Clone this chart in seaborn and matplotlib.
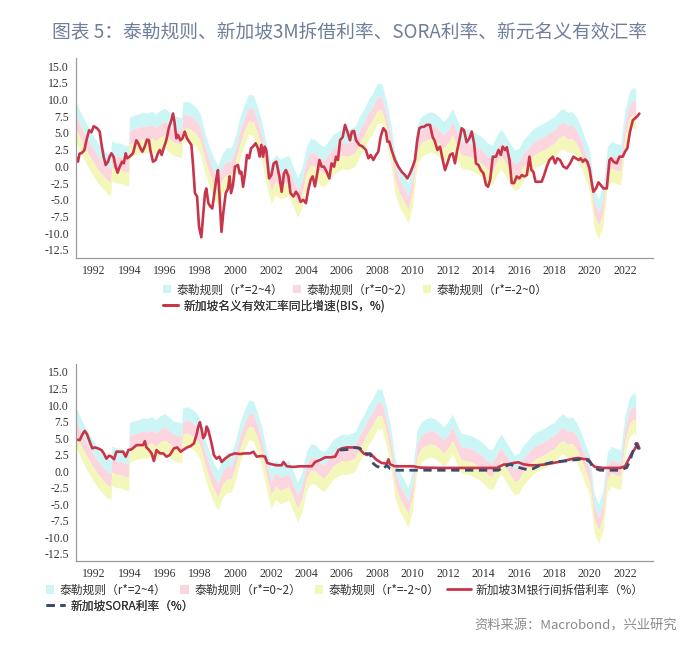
import matplotlib
matplotlib.use("Agg")
import matplotlib.pyplot as plt
import seaborn as sns
import numpy as np
from matplotlib.patches import Patch
from matplotlib.lines import Line2D

# Taylor rule rate with r*=0 (quarterly), bands shifted by r*
taylor_t = [1991.00, 1991.25, 1991.50, 1991.75, 1992.00, 1992.25, 1992.50, 1992.75, 1992.95,
            1993.00, 1993.25, 1993.50, 1993.75, 1993.95, 1994.00, 1994.25, 1994.50, 1994.75,
            1995.00, 1995.25, 1995.50, 1995.75, 1996.00, 1996.25, 1996.50, 1996.75, 1996.95,
            1997.00, 1997.25, 1997.50, 1997.75, 1998.00, 1998.25, 1998.50, 1998.75, 1999.00,
            1999.25, 1999.50, 1999.75, 2000.00, 2000.25, 2000.50, 2000.75, 2001.00, 2001.25,
            2001.50, 2001.75, 2002.00, 2002.25, 2002.50, 2002.75, 2003.00, 2003.25, 2003.50,
            2003.75, 2004.00, 2004.25, 2004.50, 2004.75, 2005.00, 2005.25, 2005.50, 2005.75,
            2006.00, 2006.25, 2006.50, 2006.75, 2007.00, 2007.25, 2007.50, 2007.75, 2008.00,
            2008.25, 2008.50, 2008.75, 2009.00, 2009.25, 2009.50, 2009.75, 2010.00, 2010.25,
            2010.50, 2010.75, 2011.00, 2011.25, 2011.50, 2011.75, 2012.00, 2012.25, 2012.50,
            2012.75, 2013.00, 2013.25, 2013.50, 2013.75, 2014.00, 2014.25, 2014.50, 2014.75,
            2015.00, 2015.25, 2015.50, 2015.75, 2016.00, 2016.25, 2016.50, 2016.75, 2017.00,
            2017.25, 2017.50, 2017.75, 2018.00, 2018.25, 2018.50, 2018.75, 2019.00, 2019.25,
            2019.50, 2019.75, 2020.00, 2020.25, 2020.50, 2020.75, 2021.00, 2021.25, 2021.50,
            2021.75, 2022.00, 2022.25, 2022.50, 2022.60]
taylor_r0 = [5.5, 4.0, 2.7, 1.5, 0.4, -0.6, -1.35, -2.1, -2.3,
             -0.15, -0.5, -0.5, -0.85, -0.9, 3.35, 3.65, 3.8, 4.05,
             3.95, 4.25, 3.8, 4.4, 4.7, 4.15, 3.6, 3.4, 3.3,
             5.55, 5.75, 5.45, 4.9, 3.85, 1.1, -0.95, -2.7, -3.9,
             -2.0, -1.2, -1.2, 0.75, 3.4, 5.35, 6.8, 6.6, 4.8,
             2.4, -0.8, -3.65, -2.25, -2.9, -2.65, -2.35, -4.0, -5.65,
             -4.15, -1.0, 0.2, 0.0, -0.7, -1.05, -0.2, 0.75, 1.2,
             1.6, 1.5, 1.7, 2.0, 3.5, 4.55, 6.0, 7.0, 8.4,
             8.4, 6.0, 2.75, -2.0, -4.0, -5.25, -6.5, -3.75, 2.2,
             3.5, 3.9, 4.15, 3.95, 3.4, 2.7, 3.5, 4.65, 3.1,
             1.7, 1.6, 1.45, 1.1, 0.7, 0.2, -0.55, -0.8, 0.6,
             1.6, 0.55, -0.55, -1.6, -1.3, -0.05, 0.65, 1.45, 1.95,
             2.25, 2.6, 3.05, 3.4, 4.2, 4.65, 4.05, 4.2, 3.4,
             1.95, 0.1, -1.65, -7.25, -8.9, -7.0, -1.05, -0.25, -0.6,
             -0.75, 4.5, 7.2, 7.9, 7.4]
band_rstar = [(2, 4), (0, 2), (-2, 0)]
band_labels = ["泰勒规则（r*=2~4）", "泰勒规则（r*=0~2）", "泰勒规则（r*=-2~0）"]
band_colors = ["#ccf6f6", "#fcd6de", "#f4f7ba"]

# Singapore NEER yoy (BIS, %)
neer_t = [1991.00, 1991.09, 1991.18, 1991.30, 1991.45, 1991.57, 1991.72, 1991.85, 1991.98, 1992.17,
          1992.32, 1992.41, 1992.54, 1992.66, 1992.79, 1992.88, 1992.98, 1993.10, 1993.22, 1993.33,
          1993.45, 1993.58, 1993.68, 1993.79, 1993.87, 1994.01, 1994.20, 1994.39, 1994.50, 1994.62,
          1994.73, 1994.86, 1994.99, 1995.10, 1995.18, 1995.33, 1995.48, 1995.61, 1995.71, 1995.82,
          1995.93, 1996.08, 1996.24, 1996.37, 1996.46, 1996.54, 1996.65, 1996.74, 1996.88, 1997.00,
          1997.12, 1997.25, 1997.37, 1997.50, 1997.60, 1997.70, 1997.82, 1997.93, 1998.06, 1998.16,
          1998.27, 1998.34, 1998.46, 1998.57, 1998.68, 1998.80, 1998.90, 1999.00, 1999.10, 1999.20,
          1999.30, 1999.44, 1999.57, 1999.66, 1999.74, 1999.85, 1999.96, 2000.13, 2000.23, 2000.32,
          2000.42, 2000.53, 2000.64, 2000.76, 2000.87, 2000.98, 2001.13, 2001.26, 2001.36, 2001.45,
          2001.55, 2001.64, 2001.73, 2001.89, 2002.02, 2002.15, 2002.30, 2002.47, 2002.60, 2002.73,
          2002.84, 2002.98, 2003.10, 2003.26, 2003.41, 2003.54, 2003.67, 2003.82, 2003.97, 2004.10,
          2004.24, 2004.35, 2004.48, 2004.61, 2004.73, 2004.86, 2004.99, 2005.14, 2005.29, 2005.42,
          2005.56, 2005.67, 2005.78, 2005.90, 2006.05, 2006.18, 2006.31, 2006.46, 2006.57, 2006.69,
          2006.80, 2006.99, 2007.18, 2007.36, 2007.50, 2007.63, 2007.78, 2007.93, 2008.06, 2008.19,
          2008.34, 2008.49, 2008.57, 2008.68, 2008.81, 2009.00, 2009.19, 2009.38, 2009.57, 2009.70,
          2009.85, 2010.00, 2010.13, 2010.26, 2010.38, 2010.51, 2010.64, 2010.79, 2010.98, 2011.13,
          2011.26, 2011.40, 2011.55, 2011.70, 2011.83, 2011.96, 2012.11, 2012.26, 2012.39, 2012.52,
          2012.64, 2012.77, 2012.90, 2013.05, 2013.21, 2013.34, 2013.47, 2013.58, 2013.72, 2013.85,
          2014.00, 2014.15, 2014.26, 2014.38, 2014.53, 2014.71, 2014.85, 2014.98, 2015.09, 2015.22,
          2015.32, 2015.47, 2015.60, 2015.73, 2015.88, 2016.03, 2016.16, 2016.30, 2016.45, 2016.60,
          2016.71, 2016.82, 2016.94, 2017.11, 2017.29, 2017.43, 2017.58, 2017.73, 2017.92, 2018.05,
          2018.18, 2018.33, 2018.52, 2018.71, 2018.90, 2019.08, 2019.23, 2019.37, 2019.50, 2019.61,
          2019.74, 2019.87, 2019.99, 2020.12, 2020.21, 2020.36, 2020.50, 2020.63, 2020.78, 2020.97,
          2021.12, 2021.21, 2021.34, 2021.53, 2021.68, 2021.87, 2022.00, 2022.13, 2022.28, 2022.44,
          2022.57, 2022.70, 2022.81]
neer_v = [1.3, 0.7, 1.9, 2.0, 2.4, 3.9, 5.4, 5.1, 6.0, 5.7,
          5.2, 3.45, 1.45, 0.2, 0.7, 1.45, 1.95, 1.45, -0.05, -0.95,
          -0.05, 0.7, 0.45, 1.95, 1.2, 1.45, 1.95, 3.9, 3.45, 2.7,
          2.2, 2.95, 4.0, 3.9, 2.45, 0.7, 0.95, 1.95, 2.45, 1.7,
          2.7, 3.9, 5.9, 6.9, 7.9, 6.7, 4.2, 4.7, 3.9, 4.2,
          5.2, 4.2, 3.7, 3.2, -0.05, -4.0, -4.5, -9.0, -10.6, -7.5,
          -4.0, -3.3, -5.5, -6.0, -6.3, -4.0, -2.0, -0.55, -5.0, -9.8,
          -7.0, -4.0, -3.3, -1.5, -4.0, -2.8, -0.05, 0.2, -1.05, -0.8,
          -3.05, -1.05, 1.7, 1.2, 2.7, 2.95, 3.45, 2.7, 1.45, 3.2,
          1.45, 2.95, 2.45, -1.8, -1.3, 0.45, 0.7, -1.5, -3.8, -1.05,
          -0.55, -1.5, -4.0, -4.5, -3.8, -4.3, -5.3, -5.0, -5.5, -3.5,
          -2.0, -1.5, -3.0, -1.05, 0.95, -0.05, -0.05, -0.8, -1.8, 0.45,
          -0.05, 1.45, 0.95, 3.9, 4.4, 6.2, 5.2, 3.9, 5.2, 5.3,
          3.9, 3.2, 2.95, 2.45, 1.2, 1.7, 0.95, 1.7, 2.2, 4.4,
          5.7, 5.2, 3.7, 3.7, 2.45, 0.95, -0.05, -0.8, -1.3, -1.8,
          -1.05, -0.05, 0.95, 3.9, 5.7, 5.9, 5.9, 6.2, 6.2, 4.4,
          3.7, 2.45, 2.95, 0.95, -0.55, 0.45, 1.7, 1.95, 0.45, 2.45,
          3.9, 5.7, 5.4, 3.6, 4.2, 5.2, 3.45, 0.45, 0.2, -0.55,
          -1.05, -2.8, -3.05, -2.0, 1.45, 1.45, 2.45, 1.7, 2.95, 2.45,
          2.85, 0.95, -2.5, -2.5, -1.5, -1.8, -1.3, -1.5, -1.3, 1.45,
          -0.55, -0.8, -2.3, -2.3, -2.3, -1.3, -0.05, 0.95, 1.45, 0.45,
          1.2, 0.95, -0.05, -0.3, 0.45, 1.45, 1.2, 0.95, 1.2, 0.7,
          1.05, 0.7, -0.3, -2.5, -3.8, -3.3, -2.4, -2.8, -3.3, -3.3,
          0.95, 1.2, 0.7, 0.45, 1.45, 1.45, 2.2, 2.7, 5.2, 6.9,
          7.2, 7.5, 7.9]

# Singapore 3M interbank rate (%)
sibor_t = [1991.00, 1991.19, 1991.33, 1991.47, 1991.60, 1991.75, 1991.90, 1992.04, 1992.23, 1992.42,
           1992.55, 1992.70, 1992.85, 1992.98, 1993.13, 1993.26, 1993.49, 1993.64, 1993.79, 1993.94,
           1994.11, 1994.25, 1994.40, 1994.58, 1994.77, 1994.87, 1994.96, 1995.11, 1995.25, 1995.38,
           1995.53, 1995.72, 1995.91, 1996.09, 1996.28, 1996.51, 1996.70, 1996.89, 1997.08, 1997.26,
           1997.45, 1997.64, 1997.79, 1997.89, 1997.98, 1998.08, 1998.17, 1998.28, 1998.36, 1998.45,
           1998.55, 1998.64, 1998.77, 1998.92, 1999.08, 1999.21, 1999.40, 1999.68, 1999.96, 2000.25,
           2000.53, 2000.81, 2001.00, 2001.19, 2001.47, 2001.66, 2001.79, 2002.04, 2002.32, 2002.60,
           2002.70, 2002.89, 2003.26, 2003.64, 2004.02, 2004.30, 2004.49, 2004.77, 2005.06, 2005.34,
           2005.62, 2005.81, 2006.00, 2006.28, 2006.57, 2006.94, 2007.23, 2007.42, 2007.60, 2007.78,
           2007.97, 2008.25, 2008.54, 2008.63, 2008.72, 2009.00, 2009.67, 2010.04, 2010.42, 2011.55,
           2012.68, 2013.81, 2014.75, 2014.94, 2015.13, 2015.41, 2015.69, 2015.98, 2016.26, 2016.63,
           2017.01, 2017.39, 2017.95, 2018.52, 2019.08, 2019.37, 2019.65, 2019.93, 2020.12, 2020.31,
           2020.78, 2021.72, 2022.00, 2022.19, 2022.38, 2022.57, 2022.70, 2022.81]
sibor_v = [4.8, 4.7, 5.5, 6.1, 5.6, 4.5, 3.45, 3.6, 3.45, 3.2,
           2.7, 1.9, 2.35, 2.2, 1.8, 2.95, 2.95, 2.95, 2.2, 3.2,
           3.3, 3.6, 3.95, 3.95, 3.95, 4.55, 3.6, 3.2, 2.7, 1.55,
           3.2, 2.7, 2.7, 2.2, 2.45, 3.45, 3.6, 2.95, 3.3, 3.6,
           3.8, 4.2, 5.5, 6.75, 7.4, 6.25, 5.0, 5.5, 6.75, 6.25,
           5.2, 4.2, 2.45, 1.9, 2.2, 1.4, 1.9, 2.45, 2.7, 2.6,
           2.7, 2.7, 2.95, 2.2, 2.3, 2.2, 1.25, 1.05, 0.9, 0.9,
           1.4, 0.75, 0.65, 0.75, 0.75, 0.75, 1.4, 1.7, 2.1, 2.1,
           2.2, 3.2, 3.45, 3.6, 3.6, 3.55, 2.7, 2.45, 2.7, 2.2,
           1.7, 1.25, 1.15, 1.8, 1.05, 0.75, 0.75, 0.75, 0.55, 0.5,
           0.5, 0.5, 0.5, 0.75, 1.0, 1.05, 1.25, 1.35, 1.05, 0.9,
           0.9, 1.0, 1.25, 1.55, 1.9, 2.0, 1.85, 1.8, 1.05, 0.65,
           0.5, 0.5, 0.75, 1.7, 2.7, 3.45, 4.2, 3.45]

# Singapore SORA (%)
sora_t = [2005.90, 2006.47, 2006.65, 2007.03, 2007.31, 2007.60, 2007.78, 2007.97, 2008.35, 2008.54,
          2008.72, 2009.10, 2010.00, 2011.00, 2012.00, 2013.00, 2014.00, 2014.85, 2015.13, 2015.50,
          2015.88, 2016.45, 2016.82, 2017.20, 2017.58, 2017.95, 2018.33, 2018.70, 2019.08, 2019.46,
          2019.84, 2020.02, 2020.21, 2020.59, 2020.97, 2021.72, 2022.10, 2022.29, 2022.47, 2022.62,
          2022.75, 2022.85]
sora_v = [3.2, 3.3, 3.6, 3.45, 2.7, 2.6, 1.15, 0.75, 0.4, 0.9,
          0.4, 0.15, 0.15, 0.15, 0.15, 0.15, 0.15, 0.15, 0.65, 1.05,
          0.65, 0.25, 0.4, 0.9, 1.15, 1.4, 1.5, 1.55, 1.7, 1.8,
          1.7, 1.4, 0.55, 0.15, 0.15, 0.15, 0.55, 1.7, 3.2, 4.2,
          3.45, 3.7]

year_ticks = list(range(1992, 2023, 2))
y_ticks = [15.0, 12.5, 10.0, 7.5, 5.0, 2.5, 0.0, -2.5, -5.0, -7.5, -10.0, -12.5]

title = "图表 5：泰勒规则、新加坡3M拆借利率、SORA利率、新元名义有效汇率"
neer_label = "新加坡名义有效汇率同比增速(BIS，%)"
sibor_label = "新加坡3M银行间拆借利率（%）"
sora_label = "新加坡SORA利率（%）"
source = "资料来源：Macrobond，兴业研究"

red = "#c8344a"
navy = "#3c4b6c"

sns.set_theme(style="white")
plt.rcParams['font.family'] = ['Noto Sans CJK SC', 'DejaVu Sans']

W, H = 700, 659
fig = plt.figure(figsize=(W / 100, H / 100), dpi=100)


def fx(px):
    return px / W


def fy(py):
    return 1 - py / H


def draw_bands(ax):
    t = np.array(taylor_t)
    r0 = np.array(taylor_r0)
    for (lo, hi), c in zip(band_rstar, band_colors):
        ax.fill_between(t, r0 + lo, r0 + hi, color=c, linewidth=0)


def style_axis(ax, ylim):
    ax.set_xlim(1990.98, 2023.58)
    ax.set_ylim(*ylim)
    ax.set_xticks(year_ticks)
    ax.set_xticklabels([str(y) for y in year_ticks])
    ax.set_yticks(y_ticks)
    ax.set_yticklabels([f"{v:.1f}" for v in y_ticks])
    for s in ["top", "right"]:
        ax.spines[s].set_visible(False)
    for s in ["left", "bottom"]:
        ax.spines[s].set_color("#9a9a9a")
        ax.spines[s].set_linewidth(0.9)
    ax.tick_params(axis="both", which="major", direction="out", length=3, width=0.8,
                   color="#9a9a9a", pad=2, labelsize=8.5, labelcolor="#333333")
    for lab in ax.get_xticklabels() + ax.get_yticklabels():
        lab.set_family("Liberation Serif")
    ax.set_xlabel("")
    ax.set_ylabel("")
    ax.grid(False)


def legend_at(ax, handles, labels, x, y, ncol=1, colsp=1.0, hl=0.7, hh=0.7):
    leg = ax.legend(handles, labels, loc="center left", bbox_to_anchor=(fx(x), fy(y)),
                    bbox_transform=fig.transFigure, ncol=ncol, frameon=False,
                    borderpad=0, borderaxespad=0, handlelength=hl, handleheight=hh,
                    handletextpad=0.45, columnspacing=colsp, fontsize=8.5,
                    labelcolor="#333333")
    ax.add_artist(leg)
    return leg


band_handles = [Patch(facecolor=c, edgecolor="none") for c in band_colors]

# top panel
ax1 = fig.add_axes([fx(76), fy(258), fx(653 - 76), (258 - 58) / H])
draw_bands(ax1)
sns.lineplot(x=neer_t, y=neer_v, ax=ax1, color=red, linewidth=1.9, sort=False, estimator=None)
style_axis(ax1, (-13.7, 16.2))
legend_at(ax1, band_handles, band_labels, 163, 290, ncol=3, colsp=0.8)
legend_at(ax1, [Line2D([], [], color=red, linewidth=2)], [neer_label], 163, 306, hl=1.3)

# bottom panel
ax2 = fig.add_axes([fx(76), fy(561), fx(653 - 76), (561 - 364) / H])
draw_bands(ax2)
sns.lineplot(x=sibor_t, y=sibor_v, ax=ax2, color=red, linewidth=1.9, sort=False, estimator=None)
sns.lineplot(x=sora_t, y=sora_v, ax=ax2, color=navy, linewidth=2.0, sort=False, estimator=None)
ax2.lines[-1].set_dashes((3, 2))
style_axis(ax2, (-13.56, 16.2))
legend_at(ax2, band_handles, band_labels, 46, 590, ncol=3, colsp=1.2)
legend_at(ax2, [Line2D([], [], color=red, linewidth=2)], [sibor_label], 447, 590, hl=2.0)
legend_at(ax2, [Line2D([], [], color=navy, linewidth=2, dashes=(3, 2))], [sora_label], 46, 606, hl=1.6)

fig.text(fx(349), fy(32), title, ha="center", va="center", fontsize=13.5, color="#6e7f99")
fig.text(fx(677), fy(626), source, ha="right", va="center", fontsize=9.5, color="#8a8a8a")

fig.savefig("out.png", dpi=100)
